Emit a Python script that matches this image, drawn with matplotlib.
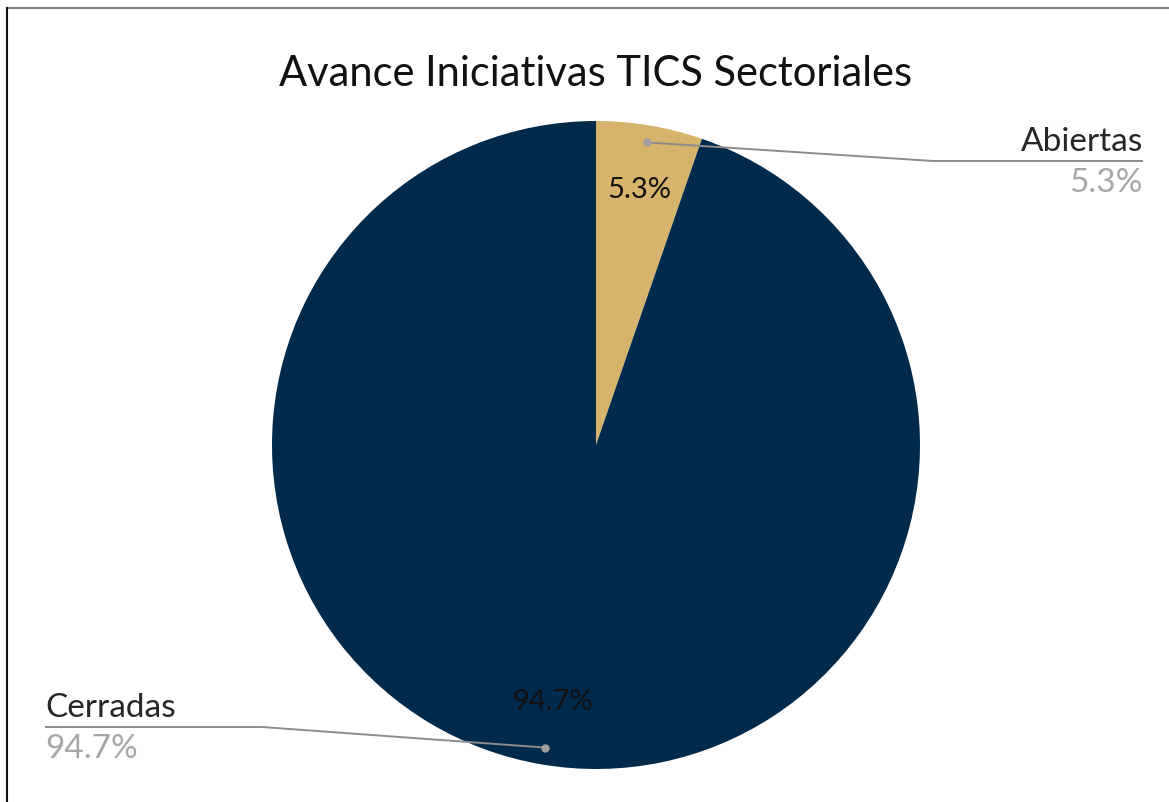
import numpy as np
import matplotlib.pyplot as plt
from matplotlib.lines import Line2D

plt.rcParams['font.family'] = ['Lato', 'DejaVu Sans']

categories = ["Abiertas", "Cerradas"]
values = [5.3, 94.7]
colors = ["#D6B46B", "#002A4C"]
title = "Avance Iniciativas TICS Sectoriales"

W, H = 1169, 803
fig = plt.figure(figsize=(W / 100, H / 100), dpi=100)
ax = fig.add_axes([0, 0, 1, 1])

cx, cy, r = 596, H - 446, 324
wedges, _ = ax.pie(values, colors=colors, startangle=90, counterclock=False,
                   center=(cx, cy), radius=r, frame=True)
ax.set_xlim(0, W)
ax.set_ylim(0, H)
ax.set_aspect('equal')
ax.axis('off')

# percentage inside slices
total = sum(values)
for w, v in zip(wedges, values):
    ang = np.deg2rad((w.theta1 + w.theta2) / 2)
    ax.text(cx + 0.80 * r * np.cos(ang), cy + 0.80 * r * np.sin(ang),
            f"{v / total * 100:.1f}%", ha='center', va='center',
            fontsize=21, color='#111111')

# outside labels with leader lines
line_col = '#8c8c8c'
label_pos = {
    "Abiertas": dict(x_end=1143, x_knee=933, y=H - 162, ha='right'),
    "Cerradas": dict(x_end=45, x_knee=262, y=H - 728, ha='left'),
}
for w, v, name in zip(wedges, values, categories):
    ang = np.deg2rad((w.theta1 + w.theta2) / 2)
    dx, dy = cx + 0.947 * r * np.cos(ang), cy + 0.947 * r * np.sin(ang)
    p = label_pos[name]
    ax.plot([dx, p['x_knee'], p['x_end']], [dy, p['y'], p['y']],
            color=line_col, lw=1.4, solid_capstyle='butt')
    ax.plot(dx, dy, 'o', ms=5, color='#a0a0a0')
    ax.text(p['x_end'], p['y'] + 5, name, ha=p['ha'], va='bottom',
            fontsize=24, color='#262626')
    ax.text(p['x_end'], p['y'] - 6, f"{v / total * 100:.1f}%", ha=p['ha'],
            va='top', fontsize=24, color='#a6a6a6')

ax.text(596, H - 74, title, ha='center', va='center', fontsize=30,
        color='#111111')

# chart frame (top and left edges)
fig.add_artist(Line2D([7 / W, 1], [1 - 9 / H, 1 - 9 / H],
                      transform=fig.transFigure, color='#808080', lw=1.5))
fig.add_artist(Line2D([7 / W, 7 / W], [0, 1 - 9 / H],
                      transform=fig.transFigure, color='#111111', lw=1.5))

fig.savefig("out.png", dpi=100)
